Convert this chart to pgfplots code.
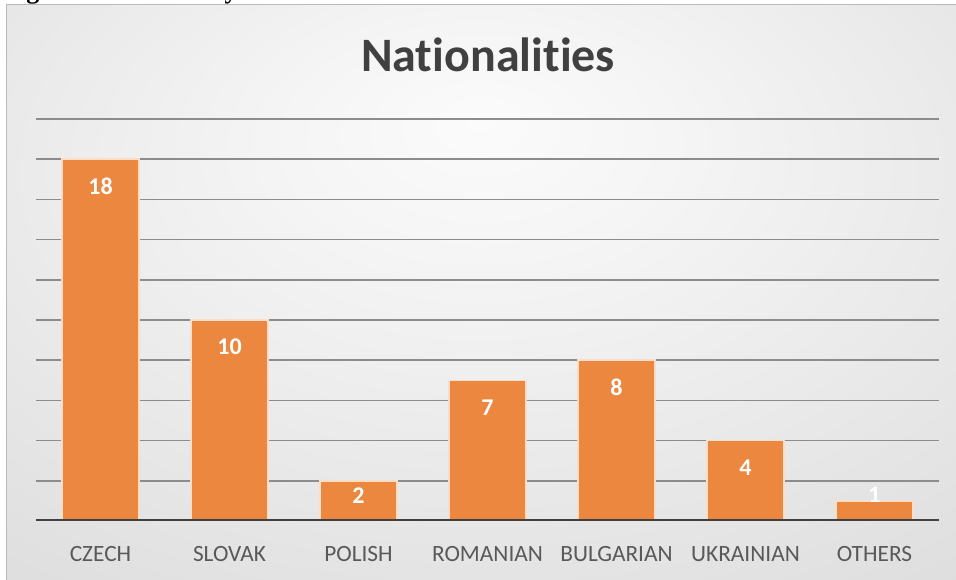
\documentclass[border=0pt]{standalone}
\usepackage{pgfplots}
\usepackage{pgfplotstable}
\pgfplotsset{compat=1.18}
\usepackage{fontspec}
\setmainfont{Carlito}[Ligatures=NoCommon]
\newfontfamily\captionfont{Liberation Serif}
\definecolor{barorange}{RGB}{236,135,64}
\definecolor{baredge}{RGB}{250,222,200}
\definecolor{gridgray}{RGB}{140,140,140}
\definecolor{basedark}{RGB}{64,64,64}
\definecolor{titlegray}{RGB}{64,64,64}
\definecolor{labelgray}{RGB}{89,89,89}
\definecolor{bgA}{RGB}{251,251,251}
\definecolor{bgB}{RGB}{245,245,245}
\definecolor{bgC}{RGB}{212,212,212}
\definecolor{bgD}{RGB}{194,194,194}
\pgfdeclareradialshading{bgshade}{\pgfpoint{0bp}{15bp}}{color(0bp)=(bgA); color(10bp)=(bgB); color(55bp)=(bgC); color(80bp)=(bgD)}
\pgfplotstableread{
x y off
0 18 -20.25
1 10 -20.25
2 2 -11.25
3 7 -20.25
4 8 -20.25
5 4 -20.25
6 1 4.5
}\datatable
\begin{document}
\begin{tikzpicture}[x=0.75pt,y=0.75pt]
\path[use as bounding box] (0,0) rectangle (956,580);
\fill[white] (0,0) rectangle (956,580);
\shade[shading=bgshade] (6,0) rectangle (956,575);
\draw[gray!55, line width=0.75pt] (6,0) -- (6,575) -- (956,575);
\begin{scope}
\clip (0,575.4) rectangle (956,580);
\node[anchor=base west, inner sep=0pt, font=\captionfont\bfseries\fontsize{19.5pt}{20pt}\selectfont] at (3,581.5) {Figure 3: Nationality};
\end{scope}
\node[anchor=base, inner sep=0pt, font=\bfseries\fontsize{36pt}{40pt}\selectfont, text=titlegray] at (488,508) {Nationalities};
\begin{axis}[
  at={(27pt,44.25pt)}, anchor=south west,
  scale only axis, width=677.25pt, height=301.5pt,
  xmin=-0.5, xmax=6.5, ymin=0, ymax=20,
  axis line style={draw=none},
  /pgf/number format/assume math mode=true,
  xtick={0,...,6},
  xticklabels={CZECH,SLOVAK,POLISH,ROMANIAN,BULGARIAN,UKRAINIAN,OTHERS},
  ytick={2,4,...,20}, yticklabels={},
  major tick length=0pt, tick style={draw=none},
  ymajorgrids, grid style={gridgray, line width=1.2pt},
  xticklabel style={font=\fontsize{17.5pt}{20pt}\selectfont, text=labelgray, anchor=base, yshift=-30.75pt},
  ybar, bar width=0.597,
  nodes near coords,
  visualization depends on={\thisrow{off} \as \off},
  every node near coord/.append style={font=\bfseries\fontsize{18pt}{20pt}\selectfont, text=white, anchor=center, yshift=\off pt},
]
\addplot[fill=barorange, draw=baredge, line width=1.1pt] table[x=x, y=y] {\datatable};
\draw[basedark, line width=2.25pt] (axis cs:-0.5,0) -- (axis cs:6.5,0);
\end{axis}
\end{tikzpicture}
\end{document}
